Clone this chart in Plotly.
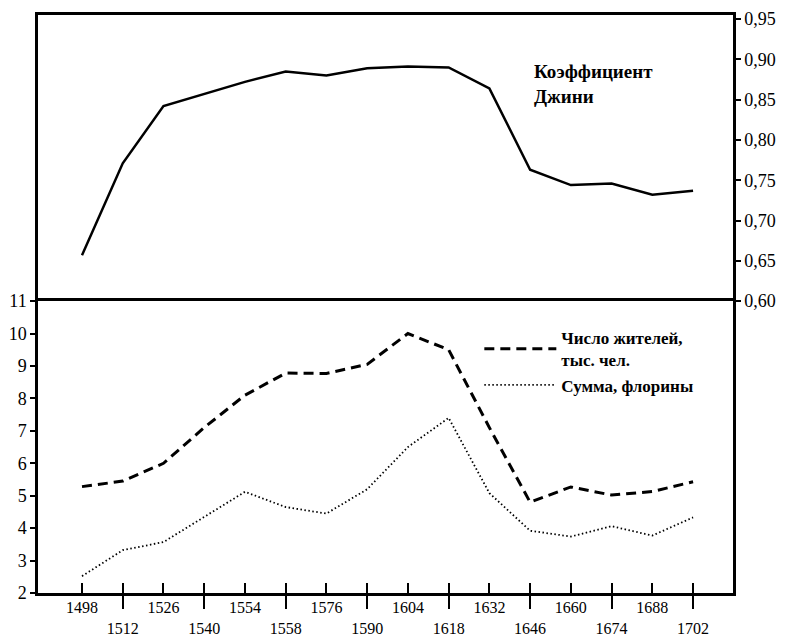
import plotly.graph_objects as go

years = [1498, 1512, 1526, 1540, 1554, 1558, 1576, 1590,
         1604, 1618, 1632, 1646, 1660, 1674, 1688, 1702]
gini = [0.657, 0.771, 0.842, 0.857, 0.872, 0.885, 0.880, 0.889,
        0.891, 0.890, 0.864, 0.763, 0.744, 0.746, 0.732, 0.737]
population = [5.28, 5.45, 6.0, 7.1, 8.1, 8.78, 8.77, 9.05,
              10.0, 9.5, 7.1, 4.8, 5.27, 5.02, 5.13, 5.43]
sums = [2.52, 3.32, 3.57, 4.34, 5.12, 4.65, 4.45, 5.2,
        6.5, 7.4, 5.08, 3.92, 3.74, 4.06, 3.77, 4.33]

gini_label = "Коэффициент<br>Джини"
pop_name = "Число жителей,<br>тыс. чел."
sum_name = "Сумма, флорины"

idx = list(range(len(years)))
ticktext = [str(y) if i % 2 == 0 else "<br>" + str(y) for i, y in enumerate(years)]
odd_idx = [i for i in idx if i % 2 == 1]

SERIF = "Liberation Serif, Times New Roman, serif"
xr = [-1.08, 15.98]

fig = go.Figure()
fig.add_trace(go.Scatter(x=idx, y=gini, mode="lines", xaxis="x", yaxis="y",
                         line=dict(color="black", width=2.5), showlegend=False))
fig.add_trace(go.Scatter(x=idx, y=population, mode="lines", xaxis="x2", yaxis="y2",
                         name=pop_name,
                         line=dict(color="black", width=3, dash="10px,6px")))
fig.add_trace(go.Scatter(x=idx, y=sums, mode="lines", xaxis="x2", yaxis="y2",
                         name=sum_name,
                         line=dict(color="black", width=1.8, dash="1.5px,2.5px")))
# invisible trace to activate the overlay axis for long ticks
fig.add_trace(go.Scatter(x=[idx[0]], y=[population[0]], mode="lines", xaxis="x3", yaxis="y2",
                         showlegend=False, hoverinfo="skip", line=dict(color="rgba(0,0,0,0)")))

split = 0.505
fig.update_layout(
    width=785, height=641,
    margin=dict(l=38, r=52, t=15, b=48),
    paper_bgcolor="white", plot_bgcolor="white",
    separators=", ",
    font=dict(family=SERIF, size=18, color="black"),
    xaxis=dict(domain=[0, 1], anchor="y", side="top", range=xr, showgrid=False, zeroline=False,
               showticklabels=False, ticks="", showline=True, mirror=False,
               linecolor="black", linewidth=2.5, automargin=False),
    yaxis=dict(domain=[split, 1], anchor="x", side="right", range=[0.6, 0.955],
               tick0=0.6, dtick=0.05, tickformat=".2f", showgrid=False, zeroline=False,
               ticks="outside", ticklen=5, tickwidth=2, tickcolor="black",
               showline=True, mirror=True, linecolor="black", linewidth=2.5,
               tickfont=dict(family=SERIF, size=18), automargin=False),
    xaxis2=dict(domain=[0, 1], anchor="y2", range=xr, showgrid=False, zeroline=False,
                tickmode="array", tickvals=idx, ticktext=ticktext,
                ticks="inside", ticklen=10, tickwidth=2, tickcolor="black",
                ticklabelstandoff=-2,
                showline=True, mirror=True, linecolor="black", linewidth=2.5,
                tickfont=dict(family=SERIF, size=16), automargin=False),
    xaxis3=dict(overlaying="x2", anchor="y2", range=xr, showgrid=False, zeroline=False,
                tickmode="array", tickvals=odd_idx, showticklabels=False,
                ticks="outside", ticklen=15, tickwidth=2, tickcolor="black",
                showline=False, automargin=False),
    yaxis2=dict(domain=[0, split], anchor="x2", range=[2, 11], dtick=1,
                showgrid=False, zeroline=False,
                ticks="outside", ticklen=5, tickwidth=2, tickcolor="black",
                showline=True, mirror=True, linecolor="black", linewidth=2.5,
                tickfont=dict(family=SERIF, size=18), automargin=False),
    legend=dict(x=0.635, y=0.472, xanchor="left", yanchor="top",
                bgcolor="rgba(0,0,0,0)", borderwidth=0,
                font=dict(family=SERIF, size=17, color="black", weight="bold"),
                itemwidth=72, tracegroupgap=0),
    annotations=[dict(text=gini_label, x=11.05, y=0.9, xref="x", yref="y",
                      xanchor="left", yanchor="top", align="left", showarrow=False,
                      font=dict(family=SERIF, size=19, color="black", weight="bold"))],
)

fig.write_html("out.html", config={"displayModeBar": False},
               post_script="document.body.style.margin='0';")
